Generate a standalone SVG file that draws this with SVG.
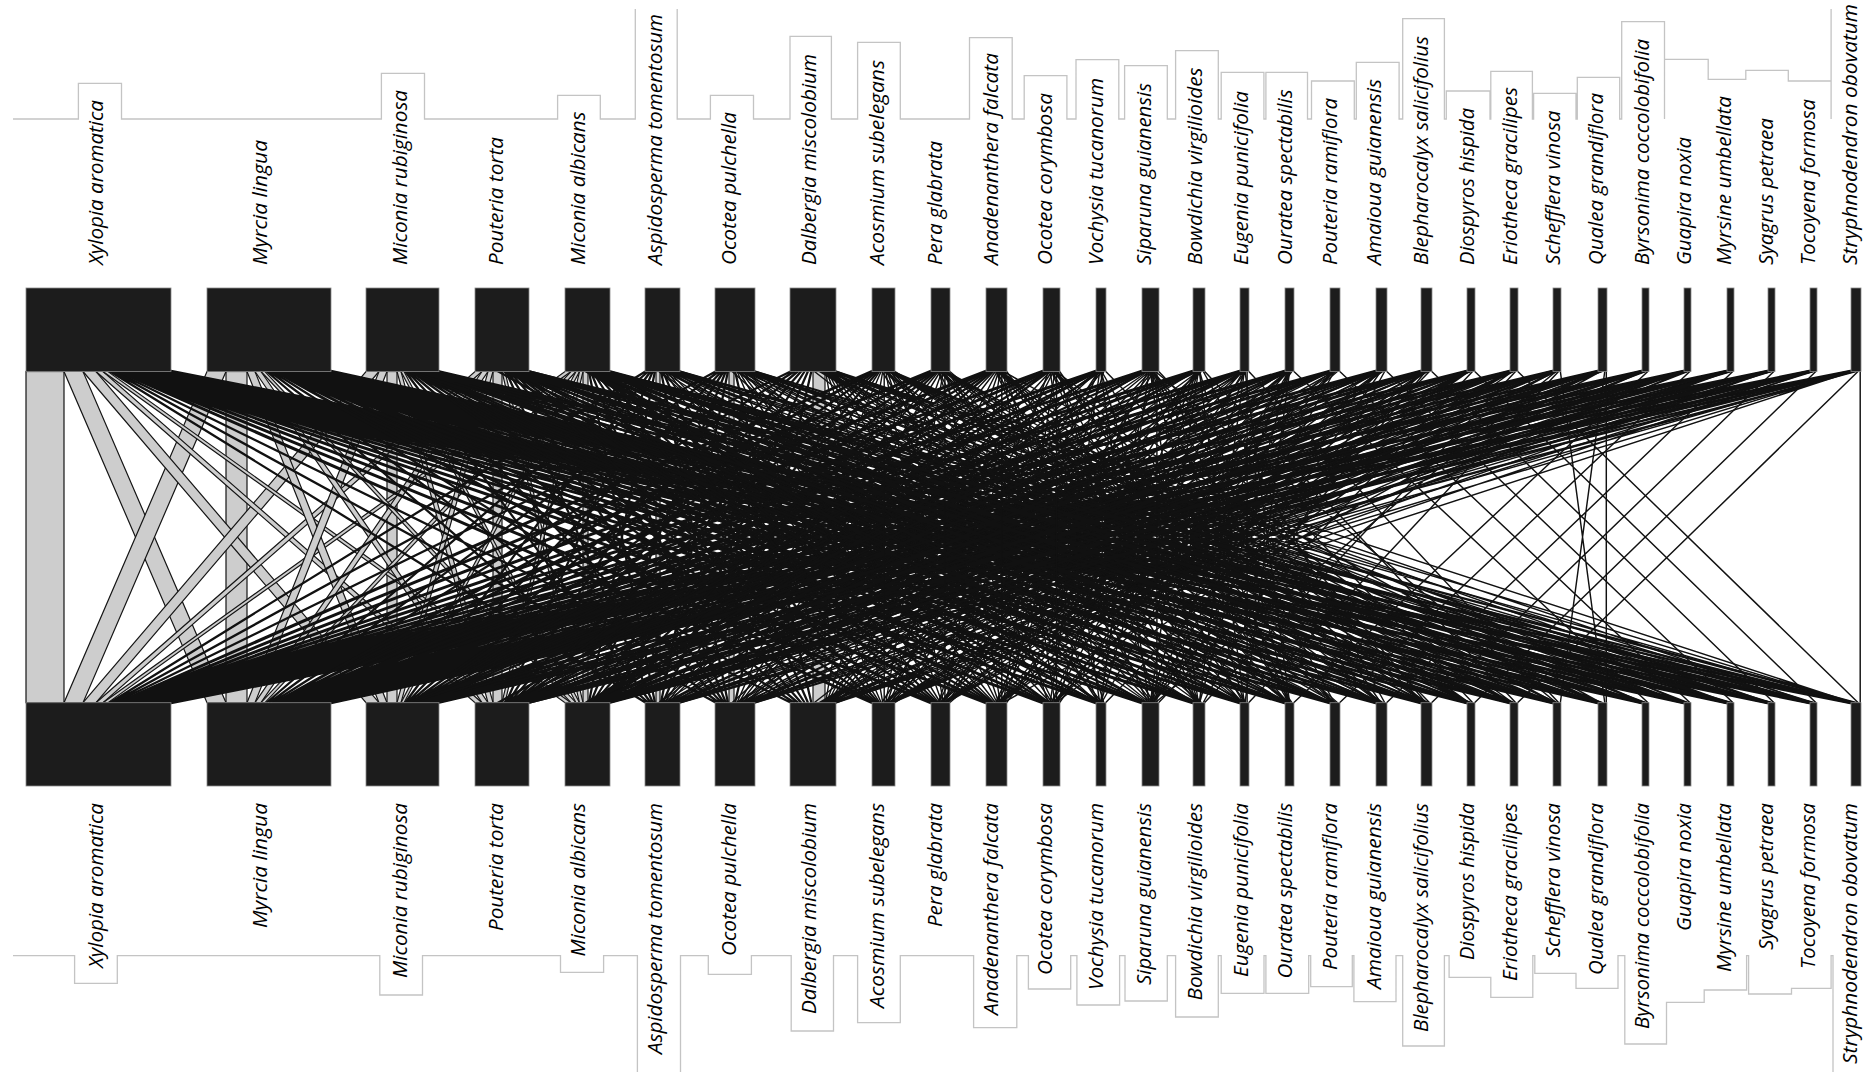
<svg xmlns="http://www.w3.org/2000/svg" width="1872" height="1072" viewBox="0 0 1872 1072">
<defs>
<style>
.bar{fill:#1c1c1c;stroke:#8a8a8a;stroke-width:0.8}
.lnk{fill:none;stroke:#111;stroke-width:1.45}
.lnk .w{stroke-width:3}
.lnk .m{stroke-width:2.3}
.band{fill:#cdcdcd;stroke:#151515;stroke-width:1.2}
.sky{fill:none;stroke:#c4c4c4;stroke-width:1.3}
.lbl{font-family:"Open Sans","Liberation Sans",sans-serif;font-style:italic;font-size:20px;fill:#000}
.bl{text-anchor:end}
</style>
</defs>
<rect width="1872" height="1072" fill="#fff"/>
<g id="connectors">
<g id="heavy-links" class="band">
<rect x="26" y="371.5" width="38" height="331.2"/>
<rect x="226" y="371.5" width="21" height="331.2"/>
<rect x="387" y="371.5" width="10" height="331.2"/>
<rect x="493" y="371.5" width="9" height="331.2"/>
<rect x="583" y="371.5" width="5" height="331.2"/>
<rect x="656" y="371.5" width="4" height="331.2"/>
<rect x="729" y="371.5" width="5" height="331.2"/>
<rect x="813" y="371.5" width="12" height="331.2"/>
<polygon points="64,371.5 83,371.5 226,702.7 207,702.7"/>
<polygon points="207,371.5 226,371.5 83,702.7 64,702.7"/>
<polygon points="83,371.5 96,371.5 379,702.7 366,702.7"/>
<polygon points="366,371.5 379,371.5 96,702.7 83,702.7"/>
<polygon points="96,371.5 103,371.5 482,702.7 475,702.7"/>
<polygon points="475,371.5 482,371.5 103,702.7 96,702.7"/>
<polygon points="103,371.5 108,371.5 571,702.7 565,702.7"/>
<polygon points="565,371.5 571,371.5 108,702.7 103,702.7"/>
<polygon points="247,371.5 255,371.5 387,702.7 379,702.7"/>
<polygon points="379,371.5 387,371.5 255,702.7 247,702.7"/>
<polygon points="255,371.5 261,371.5 488,702.7 482,702.7"/>
<polygon points="482,371.5 488,371.5 261,702.7 255,702.7"/>
<polygon points="261,371.5 265,371.5 576,702.7 571,702.7"/>
<polygon points="571,371.5 576,371.5 265,702.7 261,702.7"/>
<polygon points="397,371.5 401,371.5 493,702.7 488,702.7"/>
<polygon points="488,371.5 493,371.5 401,702.7 397,702.7"/>
<polygon points="401,371.5 404,371.5 579.5,702.7 576,702.7"/>
<polygon points="576,371.5 579.5,371.5 404,702.7 401,702.7"/>
<polygon points="502,371.5 505,371.5 583,702.7 579.5,702.7"/>
<polygon points="579.5,371.5 583,371.5 505,702.7 502,702.7"/>
</g>
<g id="thin-links" class="lnk">
<path class="m" d="M109.3 371L646.2 703M646.2 371L109.3 703M111.8 371L716.5 703M716.5 371L111.8 703M114.3 371L791.6 703M791.6 371L114.3 703M266.3 371L648.8 703M648.8 371L266.3 703M269 371L719.5 703M719.5 371L269 703M271.6 371L795 703M795 371L271.6 703M404.9 371L651 703M651 371L404.9 703M406.8 371L722 703M722 371L406.8 703M408.6 371L798.2 703M798.2 371L408.6 703M505.8 371L653 703M653 371L505.8 703M507.4 371L724 703M724 371L507.4 703M509 371L801.5 703M801.5 371L509 703M588.8 371L655 703M655 371L588.8 703M590.5 371L726 703M726 371L590.5 703M592.2 371L804.8 703M804.8 371L592.2 703M660.9 371L728 703M728 371L660.9 703M662.7 371L808.1 703M808.1 371L662.7 703M735 371L811.4 703M811.4 371L735 703"/>
<path class="w" d="M116.8 371L872.7 703M872.7 371L116.8 703M119.4 371L931.7 703M931.7 371L119.4 703M121.9 371L986.8 703M986.8 371L121.9 703M124.4 371L1043.7 703M1043.7 371L124.4 703M126.9 371L1096.7 703M1096.7 371L126.9 703M129.4 371L1142.7 703M1142.7 371L129.4 703M132 371L1193.7 703M1193.7 371L132 703M134.5 371L1240.6 703M1240.6 371L134.5 703M137 371L1285.6 703M1285.6 371L137 703M139.5 371L1330.7 703M1330.7 371L139.5 703M142 371L1376.7 703M1376.7 371L142 703M144.6 371L1421.7 703M1421.7 371L144.6 703M147.1 371L1467.7 703M1467.7 371L147.1 703M149.6 371L1510.7 703M1510.7 371L149.6 703M152.1 371L1553.7 703M1553.7 371L152.1 703M154.6 371L1598.8 703M1598.8 371L154.6 703M157.2 371L1642.7 703M1642.7 371L157.2 703M159.7 371L1684.7 703M1684.7 371L159.7 703M162.2 371L1727.7 703M1727.7 371L162.2 703M164.7 371L1768.7 703M1768.7 371L164.7 703M167.2 371L1810.7 703M1810.7 371L167.2 703M169.7 371L1851.8 703M1851.8 371L169.7 703"/>
<path class="w" d="M274.2 371L874.2 703M874.2 371L274.2 703M276.9 371L933.2 703M933.2 371L276.9 703M279.5 371L988.3 703M988.3 371L279.5 703M282.2 371L1045.1 703M1045.1 371L282.2 703M284.8 371L1098.1 703M1098.1 371L284.8 703M287.4 371L1144.1 703M1144.1 371L287.4 703M290.1 371L1195 703M1195 371L290.1 703M292.7 371L1241.9 703M1241.9 371L292.7 703M295.4 371L1286.9 703M1286.9 371L295.4 703M298 371L1332.1 703M1332.1 371L298 703M300.6 371L1378.1 703M1378.1 371L300.6 703M303.3 371L1423.1 703M1423.1 371L303.3 703M305.9 371L1469 703M1469 371L305.9 703M308.6 371L1512 703M1512 371L308.6 703M311.2 371L1555 703M1555 371L311.2 703M313.8 371L1600.3 703M1600.3 371L313.8 703M316.5 371L1644.1 703M1644.1 371L316.5 703M319.1 371L1686.1 703M1686.1 371L319.1 703M321.8 371L1729.1 703M1729.1 371L321.8 703M324.4 371L1770.1 703M1770.1 371L324.4 703M327 371L1812.1 703M1812.1 371L327 703M329.7 371L1853.5 703M1853.5 371L329.7 703"/>
<path class="m" d="M410.4 371L875.6 703M875.6 371L410.4 703M412.3 371L934.7 703M934.7 371L412.3 703M414.1 371L989.8 703M989.8 371L414.1 703M415.9 371L1046.5 703M1046.5 371L415.9 703M417.8 371L1099.6 703M1099.6 371L417.8 703M419.6 371L1145.5 703M1145.5 371L419.6 703M421.5 371L1196.3 703M1196.3 371L421.5 703M423.3 371L1243.2 703M1243.2 371L423.3 703M425.2 371L1333.6 703M1333.6 371L425.2 703M427 371L1379.4 703M1379.4 371L427 703M428.8 371L1424.4 703M1424.4 371L428.8 703M430.7 371L1513.3 703M1513.3 371L430.7 703M432.5 371L1601.8 703M1601.8 371L432.5 703M434.4 371L1687.5 703M1687.5 371L434.4 703M436.2 371L1771.5 703M1771.5 371L436.2 703M438.1 371L1855.2 703M1855.2 371L438.1 703"/>
<path class="m" d="M510.6 371L877 703M877 371L510.6 703M512.2 371L936.1 703M936.1 371L512.2 703M513.8 371L991.3 703M991.3 371L513.8 703M515.4 371L1048 703M1048 371L515.4 703M517 371L1147 703M1147 371L517 703M518.6 371L1197.7 703M1197.7 371L518.6 703M520.2 371L1288.2 703M1288.2 371L520.2 703M521.8 371L1380.8 703M1380.8 371L521.8 703M523.4 371L1470.3 703M1470.3 371L523.4 703M525 371L1645.5 703M1645.5 371L525 703M526.6 371L1730.5 703M1730.5 371L526.6 703M528.2 371L1813.5 703M1813.5 371L528.2 703"/>
<path class="m" d="M593.9 371L878.5 703M878.5 371L593.9 703M595.6 371L937.6 703M937.6 371L595.6 703M597.3 371L992.8 703M992.8 371L597.3 703M599 371L1049.4 703M1049.4 371L599 703M600.7 371L1101 703M1101 371L600.7 703M602.4 371L1289.5 703M1289.5 371L602.4 703M604.1 371L1425.8 703M1425.8 371L604.1 703M605.8 371L1556.3 703M1556.3 371L605.8 703M607.5 371L1731.9 703M1731.9 371L607.5 703M609.2 371L1856.8 703M1856.8 371L609.2 703"/>
<path d="M664.5 371L879.9 703M879.9 371L664.5 703M666.4 371L939 703M939 371L666.4 703M668.2 371L994.3 703M994.3 371L668.2 703M670 371L1148.4 703M1148.4 371L670 703M671.8 371L1244.5 703M1244.5 371L671.8 703M673.6 371L1382.2 703M1382.2 371L673.6 703M675.5 371L1471.7 703M1471.7 371L675.5 703M677.3 371L1603.3 703M1603.3 371L677.3 703M679.1 371L1772.9 703M1772.9 371L679.1 703"/>
<path d="M736.9 371L881.3 703M881.3 371L736.9 703M738.6 371L940.5 703M940.5 371L738.6 703M740.3 371L995.8 703M995.8 371L740.3 703M742.1 371L1050.8 703M1050.8 371L742.1 703M743.8 371L1149.8 703M1149.8 371L743.8 703M745.5 371L1199 703M1199 371L745.5 703M747.3 371L1335 703M1335 371L747.3 703M749 371L1427.2 703M1427.2 371L749 703M750.7 371L1514.7 703M1514.7 371L750.7 703M752.5 371L1646.9 703M1646.9 371L752.5 703M754.2 371L1814.9 703M1814.9 371L754.2 703"/>
<path d="M825.5 371L882.8 703M882.8 371L825.5 703M826.5 371L942 703M942 371L826.5 703M827.5 371L997.3 703M997.3 371L827.5 703M828.5 371L1052.2 703M1052.2 371L828.5 703M829.5 371L1102.4 703M1102.4 371L829.5 703M830.5 371L1151.2 703M1151.2 371L830.5 703M831.5 371L1200.3 703M1200.3 371L831.5 703M832.5 371L1290.8 703M1290.8 371L832.5 703M833.5 371L1336.4 703M1336.4 371L833.5 703M834.5 371L1557.7 703M1557.7 371L834.5 703M835.5 371L1688.9 703M1688.9 371L835.5 703"/>
<path d="M885.7 371L943.4 703M943.4 371L885.7 703M887.1 371L998.8 703M998.8 371L887.1 703M888.5 371L1053.6 703M1053.6 371L888.5 703M890 371L1152.6 703M1152.6 371L890 703M891.4 371L1201.7 703M1201.7 371L891.4 703M892.8 371L1383.6 703M1383.6 371L892.8 703M894.3 371L1428.6 703M1428.6 371L894.3 703M946.3 371L1000.3 703M1000.3 371L946.3 703M947.8 371L1154 703M1154 371L947.8 703M949.3 371L1337.9 703M1337.9 371L949.3 703M1003.3 371L1055 703M1055 371L1003.3 703M1004.8 371L1103.9 703M1103.9 371L1004.8 703M1006.3 371L1245.8 703M1245.8 371L1006.3 703M1057.9 371L1155.5 703M1155.5 371L1057.9 703M1059.3 371L1292.1 703M1292.1 371L1059.3 703M1105.3 371L1429.9 703M1429.9 371L1105.3 703M1158.3 371L1473 703M1473 371L1158.3 703M1203 371L1384.9 703M1384.9 371L1203 703M1204.3 371L1516 703M1516 371L1204.3 703M1248.4 371L1559 703M1559 371L1248.4 703M1293.4 371L1648.3 703M1648.3 371L1293.4 703M1339.3 371L1690.3 703M1690.3 371L1339.3 703M1386.3 371L1733.3 703M1733.3 371L1386.3 703M1431.3 371L1774.3 703M1774.3 371L1431.3 703M1474.3 371L1816.3 703M1816.3 371L1474.3 703M1517.3 371L1858.5 703M1858.5 371L1517.3 703M1560.3 371L1604.8 703M1604.8 371L1560.3 703"/>
<path d="M658.4 371L1046.1 703M1046.1 371L658.4 703M659.6 371L1097.8 703M1097.8 371L659.6 703M661.9 371L1195.2 703M1195.2 371L661.9 703M664.3 371L1286.7 703M1286.7 371L664.3 703M731.7 371L1098.2 703M1098.2 371L731.7 703M735.7 371L1242 703M1242 371L735.7 703M737 371L1287 703M1287 371L737 703M813.8 371L1242.3 703M1242.3 371L813.8 703M881.6 371L1098.8 703M1098.8 371L881.6 703M883.9 371L1242.6 703M1242.6 371L883.9 703M884.7 371L1287.6 703M1287.6 371L884.7 703M938.3 371L1048.4 703M1048.4 371L938.3 703M938.9 371L1099.2 703M1099.2 371L938.9 703M940.2 371L1196.8 703M1196.8 371L940.2 703M940.8 371L1242.9 703M1242.9 371L940.8 703M941.5 371L1287.9 703M1287.9 371L941.5 703M995.5 371L1148 703M1148 371L995.5 703M996.2 371L1197.2 703M1197.2 371L996.2 703M997.6 371L1288.2 703M1288.2 371L997.6 703M1050.1 371L1099.8 703M1099.8 371L1050.1 703M1051.2 371L1197.6 703M1197.6 371L1051.2 703M1051.8 371L1243.5 703M1243.5 371L1051.8 703M1100.5 371L1149.1 703M1149.1 371L1100.5 703M1100.8 371L1198 703M1198 371L1100.8 703M1101.5 371L1288.8 703M1288.8 371L1101.5 703M1150.2 371L1198.4 703M1198.4 371L1150.2 703M1150.8 371L1244 703M1244 371L1150.8 703M1151.4 371L1289.1 703M1289.1 371L1151.4 703M1199.2 371L1244.4 703M1244.4 371L1199.2 703M1199.6 371L1289.4 703M1289.4 371L1199.6 703M1245 371L1289.7 703M1289.7 371L1245 703"/>
<path d="M665.4 371L1331.8 703M1331.8 371L665.4 703M667.8 371L1423 703M1423 371L667.8 703M670.1 371L1511.5 703M1511.5 371L670.1 703M671.3 371L1554.5 703M1554.5 371L671.3 703M673.6 371L1643.3 703M1643.3 371L673.6 703M674.8 371L1685.3 703M1685.3 371L674.8 703M675.9 371L1728.3 703M1728.3 371L675.9 703M678.3 371L1811.3 703M1811.3 371L678.3 703M679.4 371L1852.8 703M1852.8 371L679.4 703M739.7 371L1378.4 703M1378.4 371L739.7 703M742.3 371L1468.7 703M1468.7 371L742.3 703M745 371L1554.7 703M1554.7 371L745 703M746.3 371L1600 703M1600 371L746.3 703M749 371L1685.5 703M1685.5 371L749 703M750.3 371L1728.5 703M1728.5 371L750.3 703M751.7 371L1769.5 703M1769.5 371L751.7 703M754.3 371L1853.2 703M1853.2 371L754.3 703M818.4 371L1378.8 703M1378.8 371L818.4 703M819.9 371L1423.8 703M1423.8 371L819.9 703M821.4 371L1469 703M1469 371L821.4 703M823 371L1512 703M1512 371L823 703M826 371L1600.3 703M1600.3 371L826 703M827.5 371L1643.8 703M1643.8 371L827.5 703M830.6 371L1728.8 703M1728.8 371L830.6 703M832.2 371L1769.8 703M1769.8 371L832.2 703M833.7 371L1811.8 703M1811.8 371L833.7 703M835.2 371L1853.5 703M1853.5 371L835.2 703M885.4 371L1332.8 703M1332.8 371L885.4 703M887.7 371L1469.3 703M1469.3 371L887.7 703M888.5 371L1512.3 703M1512.3 371L888.5 703M889.3 371L1555.3 703M1555.3 371L889.3 703M890 371L1600.6 703M1600.6 371L890 703M890.8 371L1644 703M1644 371L890.8 703M891.5 371L1686 703M1686 371L891.5 703M942.7 371L1379.5 703M1379.5 371L942.7 703M943.3 371L1424.5 703M1424.5 371L943.3 703M944 371L1469.5 703M1469.5 371L944 703M944.6 371L1512.5 703M1512.5 371L944.6 703M945.3 371L1555.5 703M1555.5 371L945.3 703M998.3 371L1333.5 703M1333.5 371L998.3 703M999 371L1379.9 703M1379.9 371L999 703M999.7 371L1424.9 703M1424.9 371L999.7 703M1000.4 371L1469.8 703M1469.8 371L1000.4 703M1002.5 371L1601.2 703M1601.2 371L1002.5 703M1052.9 371L1333.8 703M1333.8 371L1052.9 703M1053.5 371L1380.2 703M1380.2 371L1053.5 703M1054.1 371L1425.2 703M1425.2 371L1054.1 703M1055.2 371L1513.1 703M1513.1 371L1055.2 703M1151.9 371L1334.5 703M1334.5 371L1151.9 703M1152.5 371L1381 703M1381 371L1152.5 703M1153 371L1426 703M1426 371L1153 703M1154.8 371L1556.6 703M1556.6 371L1154.8 703"/>
<path class="m" d="M497.5 371L1097.2 703M1097.2 371L497.5 703M502.9 371L1241 703M1241 371L502.9 703M506.5 371L1331.2 703M1331.2 371L506.5 703M510.1 371L1422.3 703M1422.3 371L510.1 703M513.7 371L1511 703M1511 371L513.7 703M515.5 371L1554 703M1554 371L515.5 703M517.3 371L1599 703M1599 371L517.3 703M520.9 371L1684.8 703M1684.8 371L520.9 703M524.5 371L1768.8 703M1768.8 371L524.5 703M528.1 371L1852.2 703M1852.2 371L528.1 703M406.1 371L1285.8 703M1285.8 371L406.1 703M415.9 371L1467.7 703M1467.7 371L415.9 703M420.8 371L1553.7 703M1553.7 371L420.8 703M425.6 371L1642.6 703M1642.6 371L425.6 703M430.5 371L1727.6 703M1727.6 371L430.5 703M435.3 371L1810.6 703M1810.6 371L435.3 703M585.3 371L1144.6 703M1144.6 371L585.3 703M586.8 371L1194.8 703M1194.8 371L586.8 703M588.3 371L1241.4 703M1241.4 371L588.3 703M591.3 371L1331.5 703M1331.5 371L591.3 703M592.8 371L1377.7 703M1377.7 371L592.8 703M595.8 371L1468.2 703M1468.2 371L595.8 703M597.3 371L1511.2 703M1511.2 371L597.3 703M600.3 371L1599.4 703M1599.4 371L600.3 703M601.8 371L1643 703M1643 371L601.8 703M603.3 371L1685 703M1685 371L603.3 703M606.3 371L1769 703M1769 371L606.3 703M607.8 371L1811 703M1811 371L607.8 703"/>
<path d="M884.2 371V703M944.9 371V703M1001.8 371V703M1056.5 371V703M1156.9 371V703M1247.1 371V703M1606.3 371V703M1860.2 371V703"/>
</g>
</g>
<g id="nodes">
<g id="n-xylopia-aromatica"><rect class="bar" x="26" y="288" width="145" height="83.5"/><rect class="bar" x="26" y="702.7" width="145" height="83.3"/><text class="lbl" transform="translate(98,265) rotate(-90)" dy=".24em" textLength="165" lengthAdjust="spacingAndGlyphs">Xylopia aromatica</text><text class="lbl bl" transform="translate(98,803) rotate(-90)" dy=".24em" textLength="165" lengthAdjust="spacingAndGlyphs">Xylopia aromatica</text></g>
<g id="n-myrcia-lingua"><rect class="bar" x="207" y="288" width="124" height="83.5"/><rect class="bar" x="207" y="702.7" width="124" height="83.3"/><text class="lbl" transform="translate(262.5,265) rotate(-90)" dy=".24em" textLength="125" lengthAdjust="spacingAndGlyphs">Myrcia lingua</text><text class="lbl bl" transform="translate(262.5,803) rotate(-90)" dy=".24em" textLength="125" lengthAdjust="spacingAndGlyphs">Myrcia lingua</text></g>
<g id="n-miconia-rubiginosa"><rect class="bar" x="366" y="288" width="73" height="83.5"/><rect class="bar" x="366" y="702.7" width="73" height="83.3"/><text class="lbl" transform="translate(402,265) rotate(-90)" dy=".24em" textLength="175" lengthAdjust="spacingAndGlyphs">Miconia rubiginosa</text><text class="lbl bl" transform="translate(402,803) rotate(-90)" dy=".24em" textLength="175" lengthAdjust="spacingAndGlyphs">Miconia rubiginosa</text></g>
<g id="n-pouteria-torta"><rect class="bar" x="475" y="288" width="54" height="83.5"/><rect class="bar" x="475" y="702.7" width="54" height="83.3"/><text class="lbl" transform="translate(498.5,265) rotate(-90)" dy=".24em" textLength="128" lengthAdjust="spacingAndGlyphs">Pouteria torta</text><text class="lbl bl" transform="translate(498.5,803) rotate(-90)" dy=".24em" textLength="128" lengthAdjust="spacingAndGlyphs">Pouteria torta</text></g>
<g id="n-miconia-albicans"><rect class="bar" x="565" y="288" width="45" height="83.5"/><rect class="bar" x="565" y="702.7" width="45" height="83.3"/><text class="lbl" transform="translate(580.5,265) rotate(-90)" dy=".24em" textLength="153.5" lengthAdjust="spacingAndGlyphs">Miconia albicans</text><text class="lbl bl" transform="translate(580.5,803) rotate(-90)" dy=".24em" textLength="153.5" lengthAdjust="spacingAndGlyphs">Miconia albicans</text></g>
<g id="n-aspidosperma-tomentosum"><rect class="bar" x="645" y="288" width="35" height="83.5"/><rect class="bar" x="645" y="702.7" width="35" height="83.3"/><text class="lbl" transform="translate(657.5,265) rotate(-90)" dy=".24em" textLength="251" lengthAdjust="spacingAndGlyphs">Aspidosperma tomentosum</text><text class="lbl bl" transform="translate(657.5,803) rotate(-90)" dy=".24em" textLength="251" lengthAdjust="spacingAndGlyphs">Aspidosperma tomentosum</text></g>
<g id="n-ocotea-pulchella"><rect class="bar" x="715" y="288" width="40" height="83.5"/><rect class="bar" x="715" y="702.7" width="40" height="83.3"/><text class="lbl" transform="translate(731,265) rotate(-90)" dy=".24em" textLength="153" lengthAdjust="spacingAndGlyphs">Ocotea pulchella</text><text class="lbl bl" transform="translate(731,803) rotate(-90)" dy=".24em" textLength="153" lengthAdjust="spacingAndGlyphs">Ocotea pulchella</text></g>
<g id="n-dalbergia-miscolobium"><rect class="bar" x="790" y="288" width="46" height="83.5"/><rect class="bar" x="790" y="702.7" width="46" height="83.3"/><text class="lbl" transform="translate(811.5,265) rotate(-90)" dy=".24em" textLength="211" lengthAdjust="spacingAndGlyphs">Dalbergia miscolobium</text><text class="lbl bl" transform="translate(811.5,803) rotate(-90)" dy=".24em" textLength="211" lengthAdjust="spacingAndGlyphs">Dalbergia miscolobium</text></g>
<g id="n-acosmium-subelegans"><rect class="bar" x="872" y="288" width="23" height="83.5"/><rect class="bar" x="872" y="702.7" width="23" height="83.3"/><text class="lbl" transform="translate(879,265) rotate(-90)" dy=".24em" textLength="205" lengthAdjust="spacingAndGlyphs">Acosmium subelegans</text><text class="lbl bl" transform="translate(879,803) rotate(-90)" dy=".24em" textLength="205" lengthAdjust="spacingAndGlyphs">Acosmium subelegans</text></g>
<g id="n-pera-glabrata"><rect class="bar" x="931" y="288" width="19" height="83.5"/><rect class="bar" x="931" y="702.7" width="19" height="83.3"/><text class="lbl" transform="translate(937.5,265) rotate(-90)" dy=".24em" textLength="124" lengthAdjust="spacingAndGlyphs">Pera glabrata</text><text class="lbl bl" transform="translate(937.5,803) rotate(-90)" dy=".24em" textLength="124" lengthAdjust="spacingAndGlyphs">Pera glabrata</text></g>
<g id="n-anadenanthera-falcata"><rect class="bar" x="986" y="288" width="21" height="83.5"/><rect class="bar" x="986" y="702.7" width="21" height="83.3"/><text class="lbl" transform="translate(993,265) rotate(-90)" dy=".24em" textLength="212" lengthAdjust="spacingAndGlyphs">Anadenanthera falcata</text><text class="lbl bl" transform="translate(993,803) rotate(-90)" dy=".24em" textLength="212" lengthAdjust="spacingAndGlyphs">Anadenanthera falcata</text></g>
<g id="n-ocotea-corymbosa"><rect class="bar" x="1043" y="288" width="17" height="83.5"/><rect class="bar" x="1043" y="702.7" width="17" height="83.3"/><text class="lbl" transform="translate(1047.5,265) rotate(-90)" dy=".24em" textLength="172" lengthAdjust="spacingAndGlyphs">Ocotea corymbosa</text><text class="lbl bl" transform="translate(1047.5,803) rotate(-90)" dy=".24em" textLength="172" lengthAdjust="spacingAndGlyphs">Ocotea corymbosa</text></g>
<g id="n-vochysia-tucanorum"><rect class="bar" x="1096" y="288" width="10" height="83.5"/><rect class="bar" x="1096" y="702.7" width="10" height="83.3"/><text class="lbl" transform="translate(1098,265) rotate(-90)" dy=".24em" textLength="187" lengthAdjust="spacingAndGlyphs">Vochysia tucanorum</text><text class="lbl bl" transform="translate(1098,803) rotate(-90)" dy=".24em" textLength="187" lengthAdjust="spacingAndGlyphs">Vochysia tucanorum</text></g>
<g id="n-siparuna-guianensis"><rect class="bar" x="1142" y="288" width="17" height="83.5"/><rect class="bar" x="1142" y="702.7" width="17" height="83.3"/><text class="lbl" transform="translate(1146,265) rotate(-90)" dy=".24em" textLength="182" lengthAdjust="spacingAndGlyphs">Siparuna guianensis</text><text class="lbl bl" transform="translate(1146,803) rotate(-90)" dy=".24em" textLength="182" lengthAdjust="spacingAndGlyphs">Siparuna guianensis</text></g>
<g id="n-bowdichia-virgilioides"><rect class="bar" x="1193" y="288" width="12" height="83.5"/><rect class="bar" x="1193" y="702.7" width="12" height="83.3"/><text class="lbl" transform="translate(1197,265) rotate(-90)" dy=".24em" textLength="197.5" lengthAdjust="spacingAndGlyphs">Bowdichia virgilioides</text><text class="lbl bl" transform="translate(1197,803) rotate(-90)" dy=".24em" textLength="197.5" lengthAdjust="spacingAndGlyphs">Bowdichia virgilioides</text></g>
<g id="n-eugenia-punicifolia"><rect class="bar" x="1240" y="288" width="9" height="83.5"/><rect class="bar" x="1240" y="702.7" width="9" height="83.3"/><text class="lbl" transform="translate(1243,265) rotate(-90)" dy=".24em" textLength="174" lengthAdjust="spacingAndGlyphs">Eugenia punicifolia</text><text class="lbl bl" transform="translate(1243,803) rotate(-90)" dy=".24em" textLength="174" lengthAdjust="spacingAndGlyphs">Eugenia punicifolia</text></g>
<g id="n-ouratea-spectabilis"><rect class="bar" x="1285" y="288" width="9" height="83.5"/><rect class="bar" x="1285" y="702.7" width="9" height="83.3"/><text class="lbl" transform="translate(1287,265) rotate(-90)" dy=".24em" textLength="175.5" lengthAdjust="spacingAndGlyphs">Ouratea spectabilis</text><text class="lbl bl" transform="translate(1287,803) rotate(-90)" dy=".24em" textLength="175.5" lengthAdjust="spacingAndGlyphs">Ouratea spectabilis</text></g>
<g id="n-pouteria-ramiflora"><rect class="bar" x="1330" y="288" width="10" height="83.5"/><rect class="bar" x="1330" y="702.7" width="10" height="83.3"/><text class="lbl" transform="translate(1332,265) rotate(-90)" dy=".24em" textLength="167" lengthAdjust="spacingAndGlyphs">Pouteria ramiflora</text><text class="lbl bl" transform="translate(1332,803) rotate(-90)" dy=".24em" textLength="167" lengthAdjust="spacingAndGlyphs">Pouteria ramiflora</text></g>
<g id="n-amaioua-guianensis"><rect class="bar" x="1376" y="288" width="11" height="83.5"/><rect class="bar" x="1376" y="702.7" width="11" height="83.3"/><text class="lbl" transform="translate(1376.5,265) rotate(-90)" dy=".24em" textLength="186" lengthAdjust="spacingAndGlyphs">Amaioua guianensis</text><text class="lbl bl" transform="translate(1376.5,803) rotate(-90)" dy=".24em" textLength="186" lengthAdjust="spacingAndGlyphs">Amaioua guianensis</text></g>
<g id="n-blepharocalyx-salicifolius"><rect class="bar" x="1421" y="288" width="11" height="83.5"/><rect class="bar" x="1421" y="702.7" width="11" height="83.3"/><text class="lbl" transform="translate(1423.6,265) rotate(-90)" dy=".24em" textLength="229" lengthAdjust="spacingAndGlyphs">Blepharocalyx salicifolius</text><text class="lbl bl" transform="translate(1423.6,803) rotate(-90)" dy=".24em" textLength="229" lengthAdjust="spacingAndGlyphs">Blepharocalyx salicifolius</text></g>
<g id="n-diospyros-hispida"><rect class="bar" x="1467" y="288" width="8" height="83.5"/><rect class="bar" x="1467" y="702.7" width="8" height="83.3"/><text class="lbl" transform="translate(1469,265) rotate(-90)" dy=".24em" textLength="157" lengthAdjust="spacingAndGlyphs">Diospyros hispida</text><text class="lbl bl" transform="translate(1469,803) rotate(-90)" dy=".24em" textLength="157" lengthAdjust="spacingAndGlyphs">Diospyros hispida</text></g>
<g id="n-eriotheca-gracilipes"><rect class="bar" x="1510" y="288" width="8" height="83.5"/><rect class="bar" x="1510" y="702.7" width="8" height="83.3"/><text class="lbl" transform="translate(1511.7,265) rotate(-90)" dy=".24em" textLength="178" lengthAdjust="spacingAndGlyphs">Eriotheca gracilipes</text><text class="lbl bl" transform="translate(1511.7,803) rotate(-90)" dy=".24em" textLength="178" lengthAdjust="spacingAndGlyphs">Eriotheca gracilipes</text></g>
<g id="n-schefflera-vinosa"><rect class="bar" x="1553" y="288" width="8" height="83.5"/><rect class="bar" x="1553" y="702.7" width="8" height="83.3"/><text class="lbl" transform="translate(1555,265) rotate(-90)" dy=".24em" textLength="154.5" lengthAdjust="spacingAndGlyphs">Schefflera vinosa</text><text class="lbl bl" transform="translate(1555,803) rotate(-90)" dy=".24em" textLength="154.5" lengthAdjust="spacingAndGlyphs">Schefflera vinosa</text></g>
<g id="n-qualea-grandiflora"><rect class="bar" x="1598" y="288" width="9" height="83.5"/><rect class="bar" x="1598" y="702.7" width="9" height="83.3"/><text class="lbl" transform="translate(1597.8,265) rotate(-90)" dy=".24em" textLength="172" lengthAdjust="spacingAndGlyphs">Qualea grandiflora</text><text class="lbl bl" transform="translate(1597.8,803) rotate(-90)" dy=".24em" textLength="172" lengthAdjust="spacingAndGlyphs">Qualea grandiflora</text></g>
<g id="n-byrsonima-coccolobifolia"><rect class="bar" x="1642" y="288" width="7" height="83.5"/><rect class="bar" x="1642" y="702.7" width="7" height="83.3"/><text class="lbl" transform="translate(1644.4,265) rotate(-90)" dy=".24em" textLength="226" lengthAdjust="spacingAndGlyphs">Byrsonima coccolobifolia</text><text class="lbl bl" transform="translate(1644.4,803) rotate(-90)" dy=".24em" textLength="226" lengthAdjust="spacingAndGlyphs">Byrsonima coccolobifolia</text></g>
<g id="n-guapira-noxia"><rect class="bar" x="1684" y="288" width="7" height="83.5"/><rect class="bar" x="1684" y="702.7" width="7" height="83.3"/><text class="lbl" transform="translate(1686,265) rotate(-90)" dy=".24em" textLength="128" lengthAdjust="spacingAndGlyphs">Guapira noxia</text><text class="lbl bl" transform="translate(1686,803) rotate(-90)" dy=".24em" textLength="128" lengthAdjust="spacingAndGlyphs">Guapira noxia</text></g>
<g id="n-myrsine-umbellata"><rect class="bar" x="1727" y="288" width="7" height="83.5"/><rect class="bar" x="1727" y="702.7" width="7" height="83.3"/><text class="lbl" transform="translate(1726.3,265) rotate(-90)" dy=".24em" textLength="169" lengthAdjust="spacingAndGlyphs">Myrsine umbellata</text><text class="lbl bl" transform="translate(1726.3,803) rotate(-90)" dy=".24em" textLength="169" lengthAdjust="spacingAndGlyphs">Myrsine umbellata</text></g>
<g id="n-syagrus-petraea"><rect class="bar" x="1768" y="288" width="7" height="83.5"/><rect class="bar" x="1768" y="702.7" width="7" height="83.3"/><text class="lbl" transform="translate(1768.5,265) rotate(-90)" dy=".24em" textLength="147" lengthAdjust="spacingAndGlyphs">Syagrus petraea</text><text class="lbl bl" transform="translate(1768.5,803) rotate(-90)" dy=".24em" textLength="147" lengthAdjust="spacingAndGlyphs">Syagrus petraea</text></g>
<g id="n-tocoyena-formosa"><rect class="bar" x="1810" y="288" width="7" height="83.5"/><rect class="bar" x="1810" y="702.7" width="7" height="83.3"/><text class="lbl" transform="translate(1810.5,265) rotate(-90)" dy=".24em" textLength="166" lengthAdjust="spacingAndGlyphs">Tocoyena formosa</text><text class="lbl bl" transform="translate(1810.5,803) rotate(-90)" dy=".24em" textLength="166" lengthAdjust="spacingAndGlyphs">Tocoyena formosa</text></g>
<g id="n-stryphnodendron-obovatum"><rect class="bar" x="1851" y="288" width="10" height="83.5"/><rect class="bar" x="1851" y="702.7" width="10" height="83.3"/><text class="lbl" transform="translate(1852.5,265) rotate(-90)" dy=".24em" textLength="261" lengthAdjust="spacingAndGlyphs">Stryphnodendron obovatum</text><text class="lbl bl" transform="translate(1852.5,803) rotate(-90)" dy=".24em" textLength="261" lengthAdjust="spacingAndGlyphs">Stryphnodendron obovatum</text></g>
</g>
<g id="label-frames" class="sky">
<path d="M13 119H78.4V83.3H121.5V119H381.4V73.3H424.5V119H557.6V95.3H600.3V119H635.3V9M677.2 9V119H710.4V95.3H753.5V119H790V36.3H831.4V119H857.6V42.3H900.3V119H969.5V37.7H1012.2V119H1024.2V75.7H1066.9V119H1076V59.7H1118.8V119H1124.6V65.7H1167.3V119H1175.6V50.7H1218.3V119H1221.2V72.3H1263.9V119H1265.9V72.3H1307.5V119H1311.5V81H1354.3V119H1356.3V62.3H1399.1V119H1402.7V18.7H1444.4V119H1446.3V91H1490V119H1490.8V71.3H1532.4V119H1533.6V93.3H1576V119H1577.3V77.3H1619.7V119H1621.7V21.7H1664.5V119M1664.5 59.3H1708.2V79.3H1745.8V70.3H1788.3V81H1831.1M1831.1 119V9"/>
<path d="M13 955.7H74.6V983.3H117.3V955.7H379.8V995H422.5V955.7H560.5V972.3H603.6V955.7H637.4V1072M680.5 1072V955.7H708.3V974.3H751.4V955.7H791.2V1031H833.5V955.7H857.6V1022.7H900.3V955.7H973.6V1027.7H1016.8V955.7H1028.4V989H1070.7V955.7H1076.9V1005H1119.6V955.7H1125V1001H1167.3V955.7H1175.6V1017H1218.3V955.7H1221.2V993.3H1264V955.7H1265.9V993.3H1308.7V955.7H1310.7V986.7H1352.3V955.7H1353.9V1001.7H1396V955.7H1402.7V1046H1444.4V955.7H1449.1V977.3H1490.8V997.3H1532.8V955.7H1534.8V973.3H1576V988.3H1618V955.7H1624.8V1044H1666.5V1002.3H1704.2V990H1746.6V955.7H1748.6V994H1791.5V988.3H1831.1V955.7H1833V1072"/>
</g>
</svg>
